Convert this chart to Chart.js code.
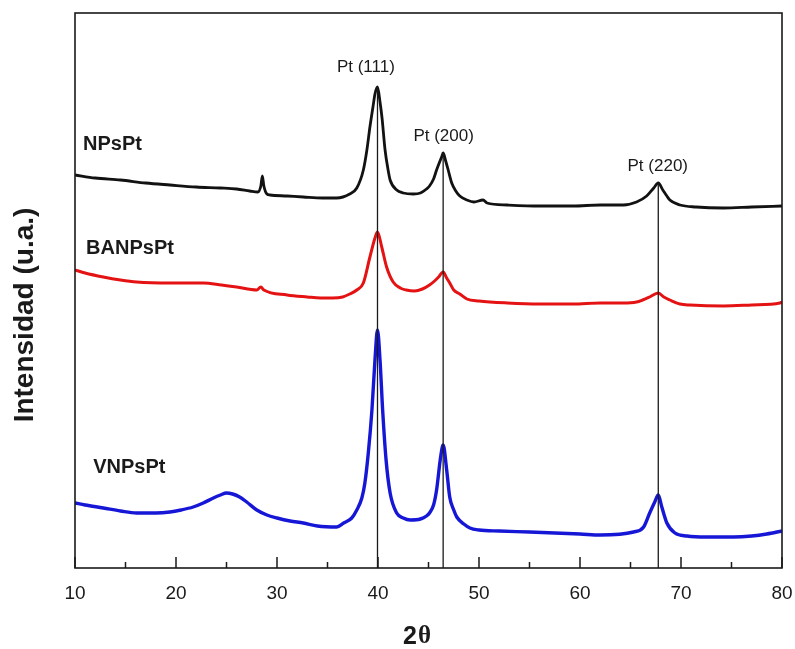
<!DOCTYPE html>
<html>
  <head>
    <title>DRX NPsPt</title>
    <style>
      html, body { margin: 0; padding: 0; background: #ffffff; }
      .wrap { position: relative; width: 795px; height: 649px; }
    </style>
    <script src="https://cdn.jsdelivr.net/npm/chart.js"></script>
  </head>
  <body>
    <div class="wrap">
      <canvas id="xrd"></canvas>
    </div>

    <script>
      // 2theta (deg), intensity (a.u., stacked with offsets)
      const npsPt = [
        [10.0, 393], [12.0, 390], [14.5, 388], [17.0, 385], [19.4, 383], [22.0, 381],
        [24.4, 380], [26.0, 379], [27.3, 377], [28.1, 376], [28.4, 382], [28.55, 392],
        [28.7, 382], [29.0, 374], [29.3, 373], [31.0, 372], [32.6, 371], [34.5, 370],
        [35.9, 370], [37.2, 374], [37.9, 380], [38.55, 398], [38.9, 418], [39.2, 441],
        [39.5, 461], [39.7, 474], [39.95, 481], [40.2, 466], [40.4, 450], [40.7, 418],
        [41.0, 398], [41.2, 388], [41.85, 378], [42.5, 375], [43.5, 374], [44.2, 375],
        [44.8, 379], [45.1, 382], [45.5, 389], [45.8, 398], [46.1, 406], [46.3, 411],
        [46.45, 415], [46.7, 407], [46.95, 398], [47.3, 385], [47.7, 377], [48.1, 372],
        [48.8, 368], [49.5, 366], [50.4, 368], [50.8, 365], [52.8, 363], [56.0, 362],
        [59.3, 362], [62.0, 363], [64.3, 363], [65.6, 366], [66.6, 372], [67.3, 380],
        [67.75, 385], [68.2, 378], [68.6, 372], [68.9, 368], [69.9, 363], [71.5, 361],
        [74.2, 360], [77.0, 361], [80.0, 362]
      ];

      const banpsPt = [
        [10.0, 298], [11.0, 295], [12.8, 291], [14.5, 288], [16.1, 286], [19.4, 285],
        [22.7, 285], [24.5, 283], [26.0, 281], [28.0, 278], [28.4, 281], [28.7, 278],
        [31.0, 273], [33.0, 271], [34.3, 270], [35.5, 270], [36.5, 271], [37.2, 274],
        [37.9, 278], [38.55, 285], [39.2, 311], [39.7, 330], [39.95, 336], [40.37, 321],
        [40.85, 301], [41.5, 286], [42.2, 280], [42.8, 278], [43.6, 277], [44.4, 279],
        [45.1, 283], [45.6, 287], [46.0, 291], [46.45, 296], [46.8, 290], [47.1, 285],
        [47.5, 278], [48.1, 274], [48.8, 269], [50.0, 267], [52.8, 265], [56.0, 264],
        [59.3, 264], [62.0, 265], [64.3, 265], [65.6, 266], [66.2, 268], [66.9, 271],
        [67.75, 275], [68.3, 271], [68.9, 268], [69.9, 264], [70.9, 263], [74.2, 262],
        [77.0, 263], [79.8, 265], [80.0, 266]
      ];

      const vnpsPt = [
        [10.0, 65], [11.0, 63], [12.8, 60], [14.5, 57], [16.1, 55], [18.0, 55],
        [19.4, 56], [20.5, 58], [21.7, 61], [22.7, 65], [23.7, 70], [24.4, 73],
        [25.0, 75], [25.6, 74], [26.3, 71], [27.0, 66], [28.0, 58], [29.0, 53],
        [30.0, 50], [31.3, 47], [32.6, 45], [34.0, 42], [35.9, 41], [36.6, 45],
        [37.4, 50], [37.9, 58], [38.4, 70], [38.7, 85], [39.04, 115], [39.4, 158],
        [39.7, 208], [39.95, 238], [40.2, 208], [40.46, 158], [40.8, 108], [41.2, 75],
        [41.85, 55], [42.5, 50], [43.2, 48], [44.2, 49], [44.8, 52], [45.1, 55],
        [45.5, 63], [45.8, 78], [46.2, 111], [46.45, 123], [46.8, 98], [47.1, 71],
        [47.5, 58], [47.8, 51], [48.5, 44], [49.1, 40], [50.0, 38], [52.0, 37],
        [55.0, 36], [60.0, 34], [62.0, 33], [65.3, 36], [66.3, 41], [66.9, 55],
        [67.4, 66], [67.75, 73], [68.1, 61], [68.6, 45], [69.4, 35], [70.6, 32],
        [72.5, 31], [75.2, 31], [77.0, 32], [78.5, 34], [80.0, 37]
      ];

      // Pt reflections: position and top of the drop line
      const ptPeaks = [39.95, 46.45, 67.75];
      const ptPeakTops = [481, 415, 385];
      const ptLabels = ['Pt (111)', 'Pt (200)', 'Pt (220)'];

      const xTicks = [10, 20, 30, 40, 50, 60, 70, 80];
      const xMinorTicks = [15, 25, 35, 45, 55, 65, 75];

      const toXY = arr => arr.map(p => ({ x: p[0], y: p[1] }));

      const dropLines = ptPeaks.map((p, i) => ({
        data: [{ x: p, y: 0 }, { x: p, y: ptPeakTops[i] }],
        borderColor: '#1a1a1a',
        borderWidth: 1.3,
        order: 0
      }));

      // frame, inward ticks and text labels
      const decor = {
        id: 'decor',
        afterDraw(chart) {
          const { ctx, chartArea: a, scales: { x, y } } = chart;
          ctx.save();
          ctx.strokeStyle = '#1a1a1a';
          ctx.lineWidth = 1.6;
          ctx.strokeRect(a.left, a.top, a.right - a.left, a.bottom - a.top);

          ctx.lineWidth = 1.5;
          ctx.beginPath();
          xTicks.forEach(v => {
            const px = x.getPixelForValue(v);
            ctx.moveTo(px, a.bottom);
            ctx.lineTo(px, a.bottom - 11);
          });
          xMinorTicks.forEach(v => {
            const px = x.getPixelForValue(v);
            ctx.moveTo(px, a.bottom);
            ctx.lineTo(px, a.bottom - 6);
          });
          ctx.stroke();

          ctx.fillStyle = '#1a1a1a';
          ctx.textBaseline = 'middle';

          // sample names
          ctx.font = 'bold 20px "Liberation Sans", Arial, sans-serif';
          ctx.textAlign = 'left';
          ctx.fillText('NPsPt', x.getPixelForValue(10.8), y.getPixelForValue(424));
          ctx.fillText('BANPsPt', x.getPixelForValue(11.1), y.getPixelForValue(320));
          ctx.fillText('VNPsPt', x.getPixelForValue(11.8), y.getPixelForValue(101));

          // reflection labels
          ctx.font = '17px "Liberation Sans", Arial, sans-serif';
          ctx.textAlign = 'center';
          const labelPos = [[38.8, 501], [46.5, 432], [67.7, 402]];
          ptLabels.forEach((t, i) => {
            ctx.fillText(t, x.getPixelForValue(labelPos[i][0]), y.getPixelForValue(labelPos[i][1]));
          });

          // axis titles
          ctx.font = 'bold 28px "Liberation Sans", Arial, sans-serif';
          ctx.save();
          ctx.translate(25, 315);
          ctx.rotate(-Math.PI / 2);
          ctx.fillText('Intensidad (u.a.)', 0, 0);
          ctx.restore();

          ctx.textAlign = 'left';
          ctx.font = 'bold 25px "Liberation Sans", Arial, sans-serif';
          ctx.fillText('2', 403, 637);
          const w2 = ctx.measureText('2').width;
          ctx.font = 'bold 25px "Liberation Serif", "Times New Roman", serif';
          ctx.fillText('θ', 403 + w2 + 1, 637);
          ctx.restore();
        }
      };

      const chart = new Chart(document.getElementById('xrd'), {
        type: 'line',
        data: {
          datasets: [
            { label: 'NPsPt', data: toXY(npsPt), borderColor: '#121212', borderWidth: 2.8, order: 1 },
            { label: 'BANPsPt', data: toXY(banpsPt), borderColor: '#e41212', borderWidth: 3, order: 1 },
            { label: 'VNPsPt', data: toXY(vnpsPt), borderColor: '#1616d6', borderWidth: 3.4, order: 1 },
            ...dropLines
          ]
        },
        options: {
          responsive: true,
          maintainAspectRatio: false,
          animation: false,
          layout: { padding: { left: 75, right: 13, top: 13, bottom: 0 } },
          elements: {
            point: { radius: 0 },
            line: { cubicInterpolationMode: 'monotone', fill: false }
          },
          plugins: { legend: { display: false }, tooltip: { enabled: false } },
          scales: {
            x: {
              type: 'linear',
              min: 10,
              max: 80,
              grid: { display: false, drawTicks: false },
              border: { display: false },
              ticks: {
                stepSize: 10,
                padding: 14,
                color: '#1a1a1a',
                font: { family: '"Liberation Sans", Arial, sans-serif', size: 19 }
              },
              afterFit(scale) {
                scale.height = 81;
                scale.paddingLeft = 0;
                scale.paddingRight = 0;
              }
            },
            y: {
              display: false,
              min: 0,
              max: 555
            }
          }
        },
        plugins: [decor]
      });
    </script>
  </body>
</html>
